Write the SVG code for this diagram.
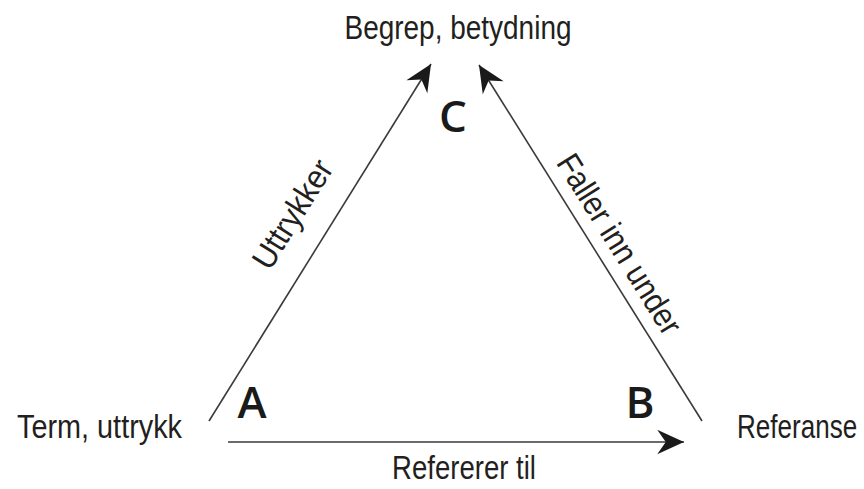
<svg xmlns="http://www.w3.org/2000/svg" width="864" height="489" viewBox="0 0 864 489">
<defs>
<marker id="ah" markerUnits="userSpaceOnUse" markerWidth="30" markerHeight="30" viewBox="-26 -13 28 26" refX="0" refY="0" orient="auto">
<path d="M0,0 L-25,-11.5 L-17,0 L-25,11.5 Z" fill="#1a1a1a"/>
</marker>
</defs>
<style>
.lbl{font-family:"Liberation Sans Narrow","Liberation Sans",Arial,sans-serif;fill:#231f20;font-size:33px}
.big{font-family:"Open Sans","Liberation Sans",sans-serif;font-weight:600;fill:#1a1a1a;font-size:44px}
.edge{stroke:#3a3a3a;stroke-width:1.6;fill:none;marker-end:url(#ah)}
</style>
<rect width="864" height="489" fill="#fff"/>
<g id="connectors">
<line class="edge" x1="209" y1="421" x2="431" y2="64"/>
<line class="edge" x1="702" y1="421" x2="479" y2="65"/>
<line class="edge" x1="228" y1="442" x2="684" y2="442"/>
</g>
<g id="node-C">
<text class="lbl" x="458" y="39" text-anchor="middle" textLength="227" lengthAdjust="spacingAndGlyphs">Begrep, betydning</text>
<text class="big" x="453" y="132" text-anchor="middle">C</text>
</g>
<g id="node-A">
<text class="lbl" x="17" y="438" textLength="165" lengthAdjust="spacingAndGlyphs">Term, uttrykk</text>
<text class="big" x="252" y="418" text-anchor="middle">A</text>
</g>
<g id="node-B">
<text class="lbl" x="0" y="0" transform="translate(737,438) scale(0.79,1)">Referanse</text>
<text class="big" x="640" y="418" text-anchor="middle">B</text>
</g>
<g id="edge-labels">
<text class="lbl" x="0" y="0" text-anchor="middle" textLength="122" lengthAdjust="spacingAndGlyphs" transform="translate(302,220) rotate(-58)">Uttrykker</text>
<text class="lbl" x="0" y="0" text-anchor="middle" textLength="206" lengthAdjust="spacingAndGlyphs" transform="translate(610,250) rotate(58)">Faller inn under</text>
<text class="lbl" x="464" y="479" text-anchor="middle" textLength="144" lengthAdjust="spacingAndGlyphs">Refererer til</text>
</g>
</svg>
